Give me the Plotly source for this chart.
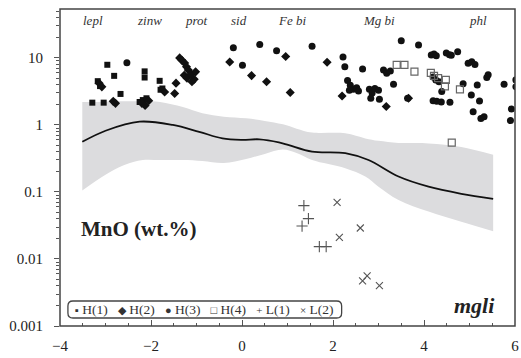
import plotly.graph_objects as go

# ---- data ----
h1_x = [-3.29, -3.04, -2.96, -2.81, -2.67, -2.14, -2.14, -3.17, -3.12, -1.81, -1.79, -2.25, -2.18, -2.10, -1.75]
h1_y = [2.15, 2.15, 7.9, 5.4, 2.9, 6.3, 5.1, 4.5, 3.8, 4.55, 3.35, 2.2, 2.35, 2.5, 3.5]

h2_x = [-3.14, -3.08, -2.83, -2.78, -2.20, -2.13, -2.05, -1.45, -1.48, -1.37, -1.32, -1.26, -1.22,
        -1.18, -1.27, -1.21, -1.12, -1.05, -1.10, -1.02, -0.27, 0.21, 0.54, 0.96, 1.06, 1.87, 2.20,
        3.17, 3.66, -1.70]
h2_y = [4.2, 3.7, 2.25, 2.1, 2.1, 1.95, 2.3, 4.2, 2.95, 10.0, 9.2, 8.4, 7.4, 6.6, 5.5, 5.0, 5.7, 4.8,
        4.4, 6.2, 8.7, 5.45, 4.4, 10.5, 3.05, 8.6, 2.7, 1.88, 2.5, 3.1]

h3_x = [-2.53, -0.19, 0.39, 0.76, 1.54, 0.01, 2.22, 2.26, 2.65, 3.50, 3.88, 3.11, 3.18, 3.26, 3.33,
        2.32, 2.38, 2.45, 2.52, 2.56, 2.36, 2.80, 2.86, 2.92, 3.00, 2.83, 3.02, 3.64, 4.16, 4.22,
        4.27, 4.49, 4.56, 4.60, 4.74, 4.97, 5.05, 5.12, 5.41, 5.38, 5.76, 6.02, 6.02, 4.20, 4.26,
        4.33, 4.39, 4.86, 5.17, 5.04, 5.22, 4.20, 4.28, 4.38, 4.57, 5.08, 5.25, 5.32, 5.92, 5.90]
h3_y = [8.5, 14.2, 15.8, 12.8, 14.9, 7.8, 10.3, 7.4, 6.85, 18.1, 15.6, 6.6, 5.9, 6.4, 4.05, 4.6,
        3.9, 3.4, 3.6, 3.2, 3.3, 3.4, 3.0, 3.5, 3.3, 2.5, 2.42, 2.5, 11.1, 11.4, 10.8, 11.8, 11.2,
        11.0, 12.4, 8.3, 8.8, 8.0, 5.6, 5.1, 4.05, 4.7, 3.7, 5.2, 4.7, 4.4, 3.15, 4.1, 3.95, 2.8,
        2.28, 2.3, 2.25, 2.2, 2.18, 1.58, 1.25, 1.32, 1.73, 1.16]

h4_x = [3.40, 3.57, 3.79, 4.15, 4.31, 4.48, 4.46, 4.79, 4.61, 4.22]
h4_y = [7.9, 7.9, 6.25, 6.0, 5.0, 4.7, 3.75, 3.4, 0.545, 5.4]

l1_x = [1.36, 1.46, 1.32, 1.70, 1.85]
l1_y = [0.0625, 0.040, 0.031, 0.0153, 0.0153]

l2_x = [2.09, 2.60, 2.14, 2.75, 2.65, 3.02]
l2_y = [0.070, 0.029, 0.021, 0.0056, 0.0047, 0.0040]

band_x = [-3.51, -3.0, -2.6, -2.18, -1.8, -1.3, -0.87, -0.4, 0.09, 0.5, 0.9, 1.2, 1.54, 2.27, 2.71,
          3.0, 3.44, 4.10, 4.82, 5.52]
band_upper = [2.2, 2.22, 2.25, 2.25, 2.2, 1.85, 1.5, 1.33, 1.26, 1.15, 1.02, 0.88, 0.77, 0.75, 0.63,
              0.58, 0.54, 0.53, 0.47, 0.36]
band_lower = [0.105, 0.18, 0.25, 0.30, 0.30, 0.30, 0.29, 0.27, 0.31, 0.37, 0.43, 0.38, 0.30, 0.226,
              0.17, 0.12, 0.076, 0.051, 0.036, 0.026]

curve_x = [-3.51, -3.0, -2.25, -1.52, -0.94, -0.43, 0.0, 0.38, 0.81, 1.03, 1.54, 2.27, 2.78, 3.44,
           4.10, 4.82, 5.52]
curve_y = [0.56, 0.82, 1.12, 1.0, 0.79, 0.63, 0.6, 0.61, 0.55, 0.50, 0.40, 0.38, 0.30, 0.17, 0.12,
           0.094, 0.079]

zone_labels = ["lepl", "zinw", "prot", "sid", "Fe bi", "Mg bi", "phl"]
zone_label_x = [-3.28, -2.03, -1.0, -0.06, 1.10, 3.0, 5.19]
zone_bounds = [-2.43, -1.42, -0.39, 0.62, 2.02, 4.05]

x_ticks = [-4, -2, 0, 2, 4, 6]
y_ticks = [0.001, 0.01, 0.1, 1, 10]
y_ticktext = ["0.001", "0.01", "0.1", "1", "10"]

legend_items = [("▪", "H(1)"), ("◆", "H(2)"), ("●", "H(3)"), ("□", "H(4)"), ("+", "L(1)"), ("×", "L(2)")]

FONT = "Liberation Serif"
minor_y = [k * 10.0 ** e for e in range(-3, 2) for k in range(2, 10)]

fig = go.Figure()

fig.add_trace(go.Scatter(x=band_x, y=band_lower, mode="lines", line=dict(width=0, shape="spline"),
                         hoverinfo="skip"))
fig.add_trace(go.Scatter(x=band_x, y=band_upper, mode="lines", line=dict(width=0, shape="spline"),
                         fill="tonexty", fillcolor="#dcdcde", hoverinfo="skip"))
fig.add_trace(go.Scatter(x=curve_x, y=curve_y, mode="lines",
                         line=dict(color="#111111", width=1.8, shape="spline")))

fig.add_trace(go.Scatter(x=h1_x, y=h1_y, mode="markers", name="H(1)",
                         marker=dict(symbol="square", size=6, color="#111111")))
fig.add_trace(go.Scatter(x=h2_x, y=h2_y, mode="markers", name="H(2)",
                         marker=dict(symbol="diamond", size=7, color="#111111")))
fig.add_trace(go.Scatter(x=h3_x, y=h3_y, mode="markers", name="H(3)",
                         marker=dict(symbol="circle", size=7, color="#111111")))
fig.add_trace(go.Scatter(x=h4_x, y=h4_y, mode="markers", name="H(4)",
                         marker=dict(symbol="square-open", size=7, color="#666666",
                                     line=dict(width=1.2))))
fig.add_trace(go.Scatter(x=l1_x, y=l1_y, mode="markers", name="L(1)",
                         marker=dict(symbol="cross-thin-open", size=8, color="#555555",
                                     line=dict(width=1.1, color="#555555"))))
fig.add_trace(go.Scatter(x=l2_x, y=l2_y, mode="markers", name="L(2)",
                         marker=dict(symbol="x-thin-open", size=7, color="#555555",
                                     line=dict(width=1.1, color="#555555"))))

axis_col = "#555555"
fig.update_layout(
    width=521, height=358,
    margin=dict(l=60, r=2, t=9, b=32),
    plot_bgcolor="white", paper_bgcolor="white",
    showlegend=False,
    font=dict(family=FONT, size=15, color="#222222"),
    xaxis=dict(range=[-4, 6], tickvals=x_ticks, ticks="inside", ticklen=6, tickcolor=axis_col,
               minor=dict(dtick=0.5, tick0=0, ticks="inside", ticklen=3, tickcolor=axis_col),
               showgrid=False, zeroline=False, showline=False, ticklabelstandoff=9,
               ticklabeloverflow="allow",
               tickfont=dict(family=FONT, size=15)),
    xaxis2=dict(range=[-4, 6], overlaying="x", side="top", anchor="y", tickvals=zone_bounds,
                ticks="outside", ticklen=3, tickcolor=axis_col, showticklabels=False,
                showgrid=False, zeroline=False, showline=False),
    xaxis3=dict(range=[-4, 6], overlaying="x", side="top", anchor="y", tickvals=zone_bounds,
                ticks="inside", ticklen=3, tickcolor=axis_col, showticklabels=False,
                showgrid=False, zeroline=False, showline=False),
    yaxis=dict(type="log", range=[-3, 1.73], tickvals=y_ticks, ticktext=y_ticktext,
               ticks="outside", ticklen=5, tickcolor=axis_col, ticklabelstandoff=8,
               minor=dict(tickvals=minor_y, ticks="outside", ticklen=3, tickcolor=axis_col),
               showgrid=False, zeroline=False, showline=False,
               tickfont=dict(family=FONT, size=15)),
    yaxis2=dict(type="log", range=[-3, 1.73], overlaying="y", side="left", anchor="x",
                tickvals=y_ticks, ticks="inside", ticklen=5, tickcolor=axis_col,
                showticklabels=False,
                minor=dict(tickvals=minor_y, ticks="inside", ticklen=3, tickcolor=axis_col),
                showgrid=False, zeroline=False, showline=False),
)

# frame
fig.add_shape(type="rect", xref="paper", yref="paper", x0=0, y0=0, x1=1, y1=1,
              line=dict(color="#444444", width=1.5))

# zone labels
for lab, lx in zip(zone_labels, zone_label_x):
    fig.add_annotation(x=lx, y=0.963, xref="x", yref="paper", text=lab, showarrow=False,
                       xanchor="center", yanchor="middle",
                       font=dict(family=FONT, size=13, style="italic", color="#333333"))

# panel labels
fig.add_annotation(x=0.172, y=0.305, xref="paper", yref="paper", text="MnO (wt.%)", showarrow=False,
                   xanchor="center", yanchor="middle",
                   font=dict(family=FONT, size=21, weight="bold", color="#222222"))
fig.add_annotation(x=0.91, y=0.065, xref="paper", yref="paper", text="mgli", showarrow=False,
                   xanchor="center", yanchor="middle",
                   font=dict(family=FONT, size=22, weight="bold", style="italic", color="#222222"))

# legend box
x0, x1, y0, y1 = 0.0174, 0.619, 0.0252, 0.0789
rx, ry = 0.011, 0.016
path = (f"M {x0+rx},{y0} L {x1-rx},{y0} Q {x1},{y0} {x1},{y0+ry} L {x1},{y1-ry} "
        f"Q {x1},{y1} {x1-rx},{y1} L {x0+rx},{y1} Q {x0},{y1} {x0},{y1-ry} L {x0},{y0+ry} "
        f"Q {x0},{y0} {x0+rx},{y0} Z")
fig.add_shape(type="path", xref="paper", yref="paper", path=path,
              line=dict(color="#444444", width=1.3))
legend_text = "   ".join(f"<span style='font-size:11px'>{s}</span> {t}" for s, t in legend_items)
fig.add_annotation(x=(x0 + x1) / 2, y=(y0 + y1) / 2, xref="paper", yref="paper", text=legend_text,
                   showarrow=False, xanchor="center", yanchor="middle",
                   font=dict(family=FONT, size=13.5, color="#333333"))

fig.write_html("out.html")
